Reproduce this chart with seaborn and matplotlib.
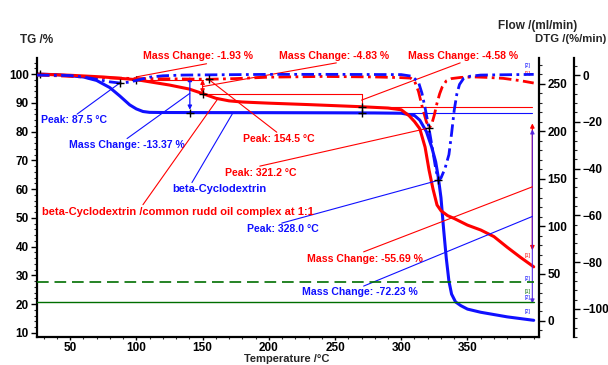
import numpy as np
import pandas as pd
import matplotlib
matplotlib.use("Agg")
import matplotlib.pyplot as plt
import seaborn as sns
from matplotlib.ticker import MultipleLocator

sns.set_theme(style="white")
plt.rcParams['font.family'] = ['Liberation Sans', 'DejaVu Sans']
plt.rcParams['font.weight'] = 'bold'
plt.rcParams['axes.labelweight'] = 'bold'

# ---------------- data ----------------
# beta-Cyclodextrin TG (%)
cd_T = [25, 40, 50, 60, 70, 80, 87.5, 95, 100, 105, 110, 120, 140, 200, 250, 280, 300,
        310, 314, 319, 323, 326, 328, 330, 332, 334, 336, 338, 341, 345, 350, 360, 370,
        380, 390, 400]
cd_tg = [100, 99.8, 99.4, 99.0, 97.8, 95.3, 92.4, 89.3, 87.9, 87.0, 86.7, 86.65, 86.63,
         86.6, 86.55, 86.5, 86.4, 85.6, 84.0, 80.0, 74.6, 69.5, 64.0, 57.0, 46.0, 36.0,
         28.0, 23.5, 20.8, 19.5, 18.3, 17.2, 16.4, 15.6, 15.0, 14.4]
# complex TG (%)
cx_T = [25, 50, 75, 100, 125, 140, 150, 160, 170, 180, 200, 230, 270, 290, 300, 306, 310,
        314, 318, 321, 324, 327, 330, 335, 340, 350, 360, 370, 380, 390, 400]
cx_tg = [100, 99.6, 99.0, 98.07, 96.2, 94.8, 93.24, 91.6, 90.7, 90.3, 89.9, 89.4, 88.66,
         88.2, 87.6, 85.5, 83.5, 81.0, 74.6, 66.6, 60.0, 54.5, 52.5, 50.8, 49.8, 47.5,
         45.8, 43.5, 39.8, 36.3, 33.0]
# beta-Cyclodextrin DTG (%/min)
cd_dtg_T = [25, 50, 60, 70, 80, 87.5, 95, 102, 110, 120, 135, 200, 250, 300, 308, 313,
            315.6, 318, 321, 324, 326, 328, 330, 333, 336, 338, 340, 342, 344, 347, 352,
            360, 400]
cd_dtg = [0, -0.2, -0.8, -1.8, -2.9, -3.4, -3.0, -2.0, -0.9, -0.3, 0, 0.3, 0.3, 0.2,
          -0.5, -3, -7.7, -14, -23, -33, -40, -45, -44, -40, -34, -25, -15, -8, -4, -1.5,
          -0.5, 0, 0.3]
# complex DTG (%/min)
cx_dtg_T = [25, 40, 60, 80, 100, 125, 154.5, 175, 200, 240, 280, 300, 307, 310, 313, 316,
            319, 321.2, 323, 325, 327, 329, 331, 334, 338, 345, 355, 365, 377, 390, 400]
cx_dtg = [0, -0.3, -0.8, -1.2, -1.5, -1.6, -1.8, -1.5, -0.9, -0.6, -0.8, -1.1, -1.3, -2.5,
          -7, -14, -20, -22.6, -21, -17, -12, -8, -5, -2.5, -1.5, -1.0, -0.8, -1.0, -1.4,
          -2.4, -3.4]
# gas flows (ml/min)
flow_T = [25, 400]
flow_purge = [41, 41]
flow_protect = [20, 20]

# mass-change steps
cx_step_T = [25, 100, 150, 270, 399]
cx_step_lv = [100, 98.07, 93.24, 88.66, 32.97]
cx_step_lbl = ["Mass Change: -1.93 %", "Mass Change: -4.83 %",
               "Mass Change: -4.58 %", "Mass Change: -55.69 %"]
cd_step_T = [25, 140.4, 399]
cd_step_lv = [100, 86.63, 14.40]
cd_step_lbl = ["Mass Change: -13.37 %", "Mass Change: -72.23 %"]

# DTG peaks
cd_peak_T = [87.5, 328.0]
cd_peak_v = [-3.4, -45]
cx_peak_T = [154.5, 321.2]
cx_peak_v = [-1.8, -22.6]

x_ticks = [50, 100, 150, 200, 250, 300, 350]
tg_ticks = [10, 20, 30, 40, 50, 60, 70, 80, 90, 100]
flow_ticks = [0, 50, 100, 150, 200, 250]
dtg_ticks = [0, -20, -40, -60, -80, -100]

BLUE = '#1010ff'
RED = '#ff0000'
GREEN = '#006e00'

# ---------------- figure ----------------
W, H = 608, 365
fig = plt.figure(figsize=(W / 100, H / 100), dpi=100)
ax = fig.add_axes([37 / W, 28 / H, (539 - 37) / W, (337 - 58) / H])
ax.set_facecolor('none')
ax2 = ax.twinx()
ax3 = ax.twinx()

ax.set_xlim(25, 404)
ax.set_ylim(8.6, 105.6)
ax2.set_ylim(-16.9, 277.4)
ax3.set_ylim(-112.0, 7.3)

# gas flows
sns.lineplot(x=flow_T, y=flow_purge, ax=ax2, color=GREEN, lw=1.2)
ax2.lines[-1].set_linestyle((0, (7, 3.5)))
sns.lineplot(x=flow_T, y=flow_protect, ax=ax2, color=GREEN, lw=1.0)

# mass-change construction lines (thin)
ax.plot([cx_step_T[1], cx_step_T[2]], [cx_step_lv[1]] * 2, color=RED, lw=0.8)
ax.plot([cx_step_T[2], cx_step_T[3]], [cx_step_lv[2]] * 2, color=RED, lw=0.8)
ax.plot([cx_step_T[3], cx_step_T[4]], [cx_step_lv[3]] * 2, color=RED, lw=0.8)
ax.plot([cx_step_T[3], cx_step_T[3]], [cx_step_lv[2], cx_step_lv[3]], color=RED, lw=0.8)
ax.plot([cd_step_T[1], cd_step_T[2]], [cd_step_lv[1]] * 2, color=BLUE, lw=0.8)

# arrows
def varrow(T, a, b, c, shrink=2, alpha=1.0):
    ax.annotate('', xy=(T, b), xytext=(T, a),
                arrowprops=dict(arrowstyle='<|-|>', color=c, lw=0.9, alpha=alpha,
                                mutation_scale=6, shrinkA=shrink, shrinkB=shrink))

varrow(cx_step_T[2], cx_step_lv[1], cx_step_lv[2], RED, shrink=0)
varrow(cd_step_T[1], cd_step_lv[0], cd_step_lv[1], BLUE, shrink=2)
varrow(cx_step_T[4], cx_step_lv[3], cx_step_lv[4], RED, shrink=12)
varrow(cd_step_T[2], cd_step_lv[1], cd_step_lv[2], '#5020e0', shrink=12, alpha=0.85)

# TG curves
sns.lineplot(x=cd_T, y=cd_tg, ax=ax, color=BLUE, lw=2.2, sort=False, estimator=None)
sns.lineplot(x=cx_T, y=cx_tg, ax=ax, color=RED, lw=2.2, sort=False, estimator=None)

# DTG curves
dd = (0, (4.5, 1.6, 1.0, 1.6))
sns.lineplot(x=cx_dtg_T, y=cx_dtg, ax=ax3, color=RED, lw=2.0, sort=False, estimator=None)
ax3.lines[-1].set_linestyle(dd)
sns.lineplot(x=cd_dtg_T, y=cd_dtg, ax=ax3, color=BLUE, lw=2.0, sort=False, estimator=None)
ax3.lines[-1].set_linestyle(dd)

# "+" markers
mk = dict(marker='+', color='black', ms=6, mew=1.0, ls='none', zorder=6)
ax.plot([27], [100], **mk)
ax.plot([cx_step_T[1], cx_step_T[2], cx_step_T[3]],
        [cx_step_lv[1], cx_step_lv[2], cx_step_lv[3]], **mk)
ax.plot([cd_step_T[1], 270], [cd_step_lv[1], 86.6], **mk)
ax3.plot(cd_peak_T, cd_peak_v, **mk)
ax3.plot(cx_peak_T, cx_peak_v, **mk)

# ---------------- annotations ----------------
fs = 7.6

def leader(start, end, c, end_tr=None):
    ax.annotate('', xy=end, xycoords=(end_tr or ax.transData), xytext=start,
                textcoords=ax.transData,
                arrowprops=dict(arrowstyle='-', color=c, lw=0.8, shrinkA=0, shrinkB=0))

# red mass changes
ax.text(146.5, 106.3, cx_step_lbl[0], color=RED, fontsize=fs, ha='center', va='center',
        fontweight='bold')
leader((153, 103.6), (100, (cx_step_lv[0] + cx_step_lv[1]) / 2), RED)
ax.text(249, 106.3, cx_step_lbl[1], color=RED, fontsize=fs, ha='center', va='center',
        fontweight='bold')
leader((251, 103.9), (cx_step_T[2], (cx_step_lv[1] + cx_step_lv[2]) / 2), RED)
ax.text(347, 106.3, cx_step_lbl[2], color=RED, fontsize=fs, ha='center', va='center',
        fontweight='bold')
leader((344.5, 103.9), (cx_step_T[3], (cx_step_lv[2] + cx_step_lv[3]) / 2), RED)
ax.text(228.6, 35.7, cx_step_lbl[3], color=RED, fontsize=fs, ha='left', va='center',
        fontweight='bold')
leader((271.6, 38.2), (cx_step_T[4], (cx_step_lv[3] + cx_step_lv[4]) / 2), RED)

# blue mass changes
ax.text(93, 75.3, cd_step_lbl[0], color=BLUE, fontsize=fs, ha='center', va='center',
        fontweight='bold')
leader((93, 77.6), (cd_step_T[1], (cd_step_lv[0] + cd_step_lv[1]) / 2), BLUE)
ax.text(224.8, 24.3, cd_step_lbl[1], color=BLUE, fontsize=fs, ha='left', va='center',
        fontweight='bold')
leader((271.6, 26.3), (cd_step_T[2], (cd_step_lv[1] + cd_step_lv[2]) / 2), BLUE)

# peaks
ax.text(53, 84, "Peak: 87.5 °C", color=BLUE, fontsize=fs, ha='center', va='center',
        fontweight='bold')
leader((55.3, 86.1), (cd_peak_T[0], cd_peak_v[0]), BLUE, ax3.transData)
ax.text(180.4, 77.4, "Peak: 154.5 °C", color=RED, fontsize=fs, ha='left', va='center',
        fontweight='bold')
leader((206, 79.8), (cx_peak_T[0], cx_peak_v[0]), RED, ax3.transData)
ax.text(166.8, 65.6, "Peak: 321.2 °C", color=RED, fontsize=fs, ha='left', va='center',
        fontweight='bold')
leader((193.2, 68.0), (cx_peak_T[1], cx_peak_v[1]), RED, ax3.transData)
ax.text(183.4, 46.1, "Peak: 328.0 °C", color=BLUE, fontsize=fs, ha='left', va='center',
        fontweight='bold')
leader((209.8, 48.2), (cd_peak_T[1], cd_peak_v[1]), BLUE, ax3.transData)

# curve names
ax.text(126.9, 60.0, "beta-Cyclodextrin", color=BLUE, fontsize=8, ha='left',
        va='center', fontweight='bold')
leader((142, 62.3), (173, 86.6), BLUE)
ax.text(28.9, 52.0, "beta-Cyclodextrin /common rudd oil complex at 1:1", color=RED,
        fontsize=8, ha='left', va='center', fontweight='bold')
leader((105, 54.6), (161.5, 91.4), RED)

# small curve ids
for (yy, c, s) in [(103.1, BLUE, '[2]'), (100.3, RED, '[1]'), (36.8, RED, '[1]'),
                   (29.1, BLUE, '[2]'), (24.3, GREEN, '[1]'), (22.5, BLUE, '[2]'),
                   (17.3, BLUE, '[2]')]:
    ax.text(395.2, yy, s, color=c, fontsize=3.8, ha='center', va='center',
            fontweight='normal')

# ---------------- axes styling ----------------
for a in (ax, ax2, ax3):
    a.grid(False)
    for s in a.spines.values():
        s.set_visible(False)
ax.spines['left'].set_visible(True)
ax.spines['bottom'].set_visible(True)
ax2.spines['right'].set_visible(True)
ax3.spines['right'].set_visible(True)
ax3.spines['right'].set_position(('outward', 25.2))
for s in (ax.spines['left'], ax.spines['bottom'], ax2.spines['right'], ax3.spines['right']):
    s.set_color('black')
    s.set_linewidth(1.6)

ax.set_xticks(x_ticks)
ax.set_yticks(tg_ticks)
ax2.set_yticks(flow_ticks)
ax3.set_yticks(dtg_ticks)
ax.xaxis.set_minor_locator(MultipleLocator(10))
ax.yaxis.set_minor_locator(MultipleLocator(2))
ax2.yaxis.set_minor_locator(MultipleLocator(10))
ax3.yaxis.set_minor_locator(MultipleLocator(4))

tk = dict(labelsize=8.5, colors='black', direction='out', width=1.0)
ax.tick_params(axis='x', which='major', bottom=True, length=2.5, pad=1.0, **tk)
ax.tick_params(axis='x', which='minor', bottom=True, length=1.5, width=0.8)
ax.tick_params(axis='y', which='major', left=True, right=False, length=4, pad=2, **tk)
ax.tick_params(axis='y', which='minor', left=True, right=False, length=2, width=0.8)
for a in (ax2, ax3):
    a.tick_params(axis='y', which='major', right=True, left=False, length=4, pad=2, **tk)
    a.tick_params(axis='y', which='minor', right=True, left=False, length=2, width=0.8)
for a in (ax, ax2, ax3):
    for lab in a.get_xticklabels() + a.get_yticklabels():
        lab.set_fontweight('bold')
ax.set_xlabel('')
ax.set_ylabel('')
ax2.set_ylabel('')
ax3.set_ylabel('')

fig.text(37 / W, 1 - 40 / H, "TG /%", fontsize=8.5, ha='center', va='center',
         fontweight='bold')
fig.text(538 / W, 1 - 26 / H, "Flow /(ml/min)", fontsize=8.5, ha='center', va='center',
         fontweight='bold')
fig.text(606 / W, 1 - 39 / H, "DTG /(%/min)", fontsize=8.2, ha='right', va='center',
         fontweight='bold')
fig.text(287 / W, 1 - 359 / H, "Temperature /°C", fontsize=8, ha='center', va='center',
         fontweight='bold')

fig.savefig('out.png', dpi=100)
